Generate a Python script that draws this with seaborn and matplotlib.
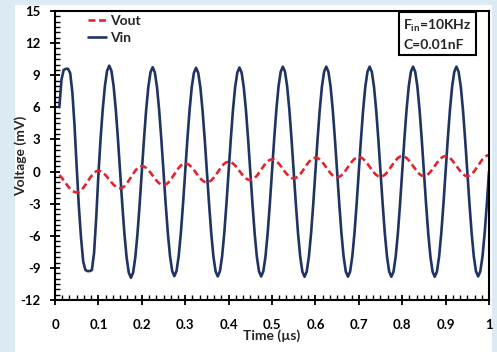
import matplotlib

matplotlib.use("Agg")
import matplotlib.pyplot as plt
import numpy as np
import pandas as pd
import seaborn as sns
from matplotlib.lines import Line2D
from matplotlib.patches import Rectangle
from matplotlib.ticker import AutoMinorLocator, FixedLocator, FuncFormatter

# samples every 0.005 us, starting at 0.010 us
T_START_US = 0.010
T_STEP_US = 0.005

vin_mv = [
    # 0.010 .. 0.095
    6.0, 8.6, 9.5, 9.6, 9.6, 9.2, 7.4, 4.3, 0.4, -3.3, -6.2, -8.4, -9.2, -9.3, -9.3, -9.2, -7.6, -4.3,
    # 0.100 .. 0.195
    -0.3, 3.06, 5.82, 8.00, 9.41, 9.89, 9.41, 8.00, 5.82, 3.06, 0.0, -3.07, -5.84, -8.03, -9.44, -9.93, -9.44, -8.03, -5.84, -3.07,
    # 0.200 .. 0.295
    0.0, 3.01, 5.73, 7.89, 9.27, 9.75, 9.27, 7.89, 5.73, 3.01, 0.0, -3.02, -5.74, -7.90, -9.29, -9.77, -9.29, -7.90, -5.74, -3.02,
    # 0.300 .. 0.395
    0.0, 3.00, 5.70, 7.85, 9.22, 9.70, 9.22, 7.85, 5.70, 3.00, 0.0, -3.03, -5.76, -7.93, -9.32, -9.80, -9.32, -7.93, -5.76, -3.03,
    # 0.400 .. 0.495
    0.0, 3.00, 5.72, 7.86, 9.24, 9.72, 9.24, 7.86, 5.72, 3.00, 0.0, -3.03, -5.76, -7.93, -9.32, -9.80, -9.32, -7.93, -5.76, -3.03,
    # 0.500 .. 0.595
    0.0, 3.03, 5.76, 7.93, 9.32, 9.80, 9.32, 7.93, 5.76, 3.03, 0.0, -3.04, -5.78, -7.95, -9.35, -9.83, -9.35, -7.95, -5.78, -3.04,
    # 0.600 .. 0.695
    0.0, 3.03, 5.76, 7.93, 9.32, 9.80, 9.32, 7.93, 5.76, 3.03, 0.0, -3.03, -5.77, -7.94, -9.34, -9.82, -9.34, -7.94, -5.77, -3.03,
    # 0.700 .. 0.795
    0.0, 3.03, 5.76, 7.93, 9.32, 9.80, 9.32, 7.93, 5.76, 3.03, 0.0, -3.04, -5.78, -7.95, -9.35, -9.83, -9.35, -7.95, -5.78, -3.04,
    # 0.800 .. 0.895
    0.0, 3.03, 5.76, 7.93, 9.32, 9.80, 9.32, 7.93, 5.76, 3.03, 0.0, -3.04, -5.78, -7.95, -9.35, -9.83, -9.35, -7.95, -5.78, -3.04,
    # 0.900 .. 0.995
    0.0, 3.03, 5.76, 7.93, 9.32, 9.80, 9.32, 7.93, 5.76, 3.03, 0.0, -3.03, -5.76, -7.93, -9.32, -9.80, -9.32, -7.93, -5.76, -3.03,
    # 1.000
    0.0,
]

vout_mv = [
    # 0.010 .. 0.095
    -0.33, -0.55, -0.82, -1.10, -1.38, -1.62, -1.80, -1.91, -1.95, -1.90, -1.76, -1.53, -1.25, -0.94, -0.63, -0.35, -0.12, 0.02,
    # 0.100 .. 0.195
    0.07, 0.03, -0.09, -0.27, -0.50, -0.75, -1.00, -1.23, -1.41, -1.53, -1.57, -1.52, -1.37, -1.14, -0.85, -0.53, -0.21, 0.08, 0.31, 0.46,
    # 0.200 .. 0.295
    0.51, 0.47, 0.34, 0.15, -0.10, -0.38, -0.65, -0.90, -1.09, -1.22, -1.26, -1.21, -1.07, -0.84, -0.56, -0.25, 0.06, 0.34, 0.57, 0.71,
    # 0.300 .. 0.395
    0.76, 0.72, 0.59, 0.40, 0.15, -0.13, -0.40, -0.65, -0.84, -0.97, -1.01, -0.96, -0.83, -0.61, -0.34, -0.05, 0.25, 0.52, 0.74, 0.87,
    # 0.400 .. 0.495
    0.92, 0.88, 0.76, 0.57, 0.33, 0.06, -0.21, -0.45, -0.64, -0.76, -0.80, -0.75, -0.61, -0.40, -0.13, 0.17, 0.47, 0.74, 0.96, 1.09,
    # 0.500 .. 0.595
    1.14, 1.10, 0.97, 0.77, 0.53, 0.25, -0.03, -0.27, -0.47, -0.60, -0.64, -0.59, -0.46, -0.24, 0.03, 0.33, 0.63, 0.90, 1.12, 1.25,
    # 0.600 .. 0.695
    1.30, 1.26, 1.12, 0.92, 0.67, 0.38, 0.10, -0.16, -0.37, -0.50, -0.54, -0.49, -0.36, -0.15, 0.12, 0.41, 0.71, 0.97, 1.18, 1.31,
    # 0.700 .. 0.795
    1.36, 1.32, 1.18, 0.98, 0.73, 0.44, 0.16, -0.10, -0.31, -0.44, -0.48, -0.43, -0.30, -0.08, 0.19, 0.49, 0.78, 1.05, 1.27, 1.40,
    # 0.800 .. 0.895
    1.45, 1.40, 1.27, 1.06, 0.80, 0.52, 0.23, -0.03, -0.24, -0.38, -0.42, -0.37, -0.24, -0.03, 0.23, 0.52, 0.80, 1.06, 1.27, 1.40,
    # 0.900 .. 0.995
    1.45, 1.40, 1.27, 1.06, 0.80, 0.52, 0.23, -0.03, -0.24, -0.38, -0.42, -0.37, -0.23, -0.02, 0.26, 0.56, 0.86, 1.14, 1.35, 1.49,
    # 1.000
    1.54,
]

x_ticks = [0, 0.1, 0.2, 0.3, 0.4, 0.5, 0.6, 0.7, 0.8, 0.9, 1.0]
y_ticks = [-12, -9, -6, -3, 0, 3, 6, 9, 12, 15]

VIN_COLOR = "#1f3462"
VOUT_COLOR = "#e0262c"
PAGE_BLUE = "#dceaf4"


def main() -> None:
    time_us = np.round(T_START_US + T_STEP_US * np.arange(len(vin_mv)), 3)
    df = pd.DataFrame(
        {
            "Time": np.concatenate([time_us, time_us]),
            "Voltage": vin_mv + vout_mv,
            "Signal": ["Vin"] * len(vin_mv) + ["Vout"] * len(vout_mv),
        }
    )

    sns.set_style("ticks")
    plt.rcParams["font.family"] = ["Lato", "DejaVu Sans"]
    plt.rcParams["font.weight"] = "bold"
    plt.rcParams["mathtext.fontset"] = "custom"
    plt.rcParams["mathtext.rm"] = "Lato:bold"
    plt.rcParams["mathtext.it"] = "Lato:bold"
    plt.rcParams["mathtext.bf"] = "Lato:bold"

    fig = plt.figure(figsize=(4.97, 3.52), dpi=100, facecolor=PAGE_BLUE)
    # white card behind the chart, light blue page around it
    fig.patches.append(
        Rectangle(
            (15 / 497, 0), 477 / 497, 347 / 352,
            transform=fig.transFigure, facecolor="white", edgecolor="none", zorder=-5,
        )
    )
    ax = fig.add_axes([55 / 497, 1 - 300 / 352, 434 / 497, 289 / 352])
    ax.set_zorder(1)

    sns.lineplot(
        data=df, x="Time", y="Voltage", hue="Signal", style="Signal",
        hue_order=["Vin", "Vout"], style_order=["Vin", "Vout"],
        palette={"Vin": VIN_COLOR, "Vout": VOUT_COLOR},
        dashes={"Vin": "", "Vout": (2.6, 1.4)},
        linewidth=1.9, estimator=None, legend=False, ax=ax,
    )

    ax.set_xlim(0, 1)
    ax.set_ylim(-12, 15)
    ax.xaxis.set_major_locator(FixedLocator(x_ticks))
    ax.yaxis.set_major_locator(FixedLocator(y_ticks))
    ax.xaxis.set_minor_locator(AutoMinorLocator(6))
    ax.yaxis.set_minor_locator(AutoMinorLocator(6))
    ax.xaxis.set_major_formatter(FuncFormatter(lambda v, _: f"{v:g}"))
    ax.yaxis.set_major_formatter(FuncFormatter(lambda v, _: f"{v:g}"))

    ax.tick_params(which="major", direction="inout", length=7, width=1.3,
                   colors="black", labelsize=9.5)
    ax.tick_params(which="minor", direction="in", length=3.5, width=1.0, colors="black")
    ax.tick_params(axis="x", which="major", pad=10)
    ax.tick_params(axis="y", which="major", pad=7)
    for spine in ax.spines.values():
        spine.set_visible(True)
        spine.set_color("black")
        spine.set_linewidth(1.5)

    ax.set_xlabel("Time (µs)", fontsize=10, fontweight="bold", labelpad=-1)
    ax.set_ylabel("Voltage (mV)", fontsize=10, fontweight="bold", labelpad=-5)

    # legend: Vout listed first
    handles = [
        Line2D([], [], color=VOUT_COLOR, lw=1.9, dashes=(2.6, 1.4)),
        Line2D([], [], color=VIN_COLOR, lw=1.9),
    ]
    ax.legend(
        handles, ["Vout", "Vin"], loc="upper left", bbox_to_anchor=(0.075, 0.985),
        frameon=False, borderpad=0, borderaxespad=0, handlelength=1.3,
        handletextpad=0.3, labelspacing=0.35, prop={"size": 10, "weight": "bold"},
    )

    ax.text(
        0.96, 0.975, "F$_{\\mathregular{in}}$=10KHz\nC=0.01nF",
        transform=ax.transAxes, ha="right", va="top", fontsize=10,
        fontweight="bold", linespacing=1.5, multialignment="left",
        bbox=dict(boxstyle="square,pad=0.3", facecolor="white", edgecolor="black", linewidth=1.5),
    )

    fig.savefig("out.png", dpi=100, facecolor=fig.get_facecolor())


if __name__ == "__main__":
    main()
